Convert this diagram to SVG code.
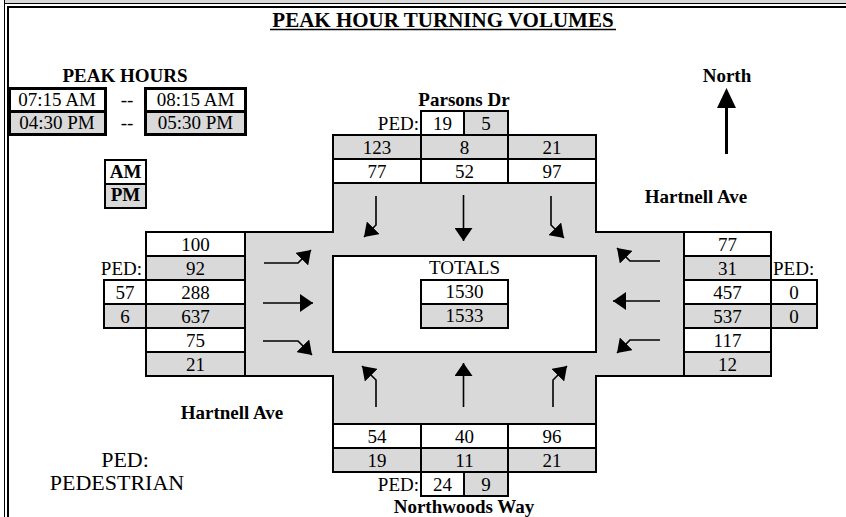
<svg xmlns="http://www.w3.org/2000/svg" width="846" height="517" viewBox="0 0 846 517">
<style>
.t{font-family:"Liberation Serif","Times New Roman",serif;font-size:19px;fill:#000;text-anchor:middle}
.b{font-weight:bold}
.s{text-anchor:start}
.e{text-anchor:end}
.cw{fill:#fff;stroke:#000;stroke-width:2}
.cg{fill:#d9d9d9;stroke:#000;stroke-width:2}
.tw{fill:#fff;stroke:#000;stroke-width:3}
.tg{fill:#d9d9d9;stroke:#000;stroke-width:3}
.ar{fill:none;stroke:#000;stroke-width:1.6;marker-end:url(#ah)}
</style>
<defs>
<marker id="ah" markerUnits="userSpaceOnUse" markerWidth="13" markerHeight="18" viewBox="0 0 13 18" refX="13" refY="9" orient="auto"><path d="M0,0 L13,9 L0,18 z" fill="#000"/></marker>
</defs>
<rect width="846" height="517" fill="#fff"/>
<g id="frame">
<rect x="4" y="0" width="842" height="3" fill="#d9d9d9"/>
<line x1="4" y1="3.5" x2="846" y2="3.5" stroke="#000" stroke-width="1"/>
<line x1="4.5" y1="0" x2="4.5" y2="517" stroke="#000" stroke-width="1"/>
<path d="M8,517 V7 H846" fill="none" stroke="#000" stroke-width="2"/>
</g>
<g id="title">
<text class="t b" x="443" y="27" style="font-size:21px">PEAK HOUR TURNING VOLUMES</text>
<line x1="270" y1="29.5" x2="616" y2="29.5" stroke="#000" stroke-width="1.5"/>
</g>
<g id="peak-hours">
<text class="t b" x="125" y="82">PEAK HOURS</text>
<rect class="tw" x="9.5" y="88.5" width="96" height="23"/>
<rect class="tg" x="9.5" y="111.5" width="96" height="23"/>
<text class="t" x="57" y="106">07:15 AM</text>
<text class="t" x="57" y="129">04:30 PM</text>
<text class="t" x="127" y="106">--</text>
<text class="t" x="127" y="129">--</text>
<rect class="tw" x="145.5" y="88.5" width="100" height="23"/>
<rect class="tg" x="145.5" y="111.5" width="100" height="23"/>
<text class="t" x="195.5" y="106">08:15 AM</text>
<text class="t" x="195.5" y="129">05:30 PM</text>
</g>
<g id="legend-ampm">
<rect class="cw" x="105" y="160" width="41" height="24"/>
<rect class="cg" x="105" y="184" width="41" height="24"/>
<text class="t b" x="125.5" y="178">AM</text>
<text class="t b" x="125.5" y="201">PM</text>
</g>
<g id="compass">
<text class="t b" x="727" y="82">North</text>
<line x1="726.5" y1="104" x2="726.5" y2="154" stroke="#000" stroke-width="3"/>
<polygon points="726.5,88 717,108 736,108" fill="#000"/>
</g>
<g id="intersection">
<path d="M333,183 H596 V232 H684 V376 H596 V424 H333 V376 H245 V232 H333 Z" fill="#d9d9d9" stroke="#000" stroke-width="2"/>
</g>
<g id="totals">
<rect class="cw" x="333" y="256" width="263" height="96"/>
<text class="t" x="464.5" y="274">TOTALS</text>
<rect class="cw" x="421" y="280" width="87" height="24"/>
<rect class="cg" x="421" y="304" width="87" height="24"/>
<text class="t" x="464.5" y="298">1530</text>
<text class="t" x="464.5" y="322">1533</text>
</g>
<g id="north-approach">
<text class="t b" x="464" y="106">Parsons Dr</text>
<text class="t e" x="419" y="129.5">PED:</text>
<rect class="cw" x="421" y="111" width="43" height="24"/>
<rect class="cg" x="464" y="111" width="44" height="24"/>
<text class="t" x="442.5" y="129.5">19</text>
<text class="t" x="486" y="129.5">5</text>
<rect class="cg" x="333" y="135" width="88" height="24"/>
<rect class="cg" x="421" y="135" width="87" height="24"/>
<rect class="cg" x="508" y="135" width="88" height="24"/>
<rect class="cw" x="333" y="159" width="88" height="24"/>
<rect class="cw" x="421" y="159" width="87" height="24"/>
<rect class="cw" x="508" y="159" width="88" height="24"/>
<text class="t" x="377" y="153.5">123</text>
<text class="t" x="464.5" y="153.5">8</text>
<text class="t" x="552" y="153.5">21</text>
<text class="t" x="377" y="177.5">77</text>
<text class="t" x="464.5" y="177.5">52</text>
<text class="t" x="552" y="177.5">97</text>
</g>
<g id="west-approach">
<rect class="cw" x="146" y="232" width="99" height="24"/>
<rect class="cg" x="146" y="256" width="99" height="24"/>
<rect class="cw" x="146" y="280" width="99" height="24"/>
<rect class="cg" x="146" y="304" width="99" height="24"/>
<rect class="cw" x="146" y="328" width="99" height="24"/>
<rect class="cg" x="146" y="352" width="99" height="24"/>
<text class="t" x="195.5" y="250.5">100</text>
<text class="t" x="195.5" y="274.5">92</text>
<text class="t" x="195.5" y="298.5">288</text>
<text class="t" x="195.5" y="322.5">637</text>
<text class="t" x="195.5" y="346.5">75</text>
<text class="t" x="195.5" y="370.5">21</text>
<text class="t e" x="142" y="274.5">PED:</text>
<rect class="cw" x="104" y="280" width="42" height="24"/>
<rect class="cg" x="104" y="304" width="42" height="24"/>
<text class="t" x="125" y="298.5">57</text>
<text class="t" x="125" y="322.5">6</text>
<text class="t b" x="232" y="419">Hartnell Ave</text>
</g>
<g id="east-approach">
<text class="t b" x="696" y="203">Hartnell Ave</text>
<rect class="cw" x="684" y="232" width="87" height="24"/>
<rect class="cg" x="684" y="256" width="87" height="24"/>
<rect class="cw" x="684" y="280" width="87" height="24"/>
<rect class="cg" x="684" y="304" width="87" height="24"/>
<rect class="cw" x="684" y="328" width="87" height="24"/>
<rect class="cg" x="684" y="352" width="87" height="24"/>
<text class="t" x="727.5" y="250.5">77</text>
<text class="t" x="727.5" y="274.5">31</text>
<text class="t" x="727.5" y="298.5">457</text>
<text class="t" x="727.5" y="322.5">537</text>
<text class="t" x="727.5" y="346.5">117</text>
<text class="t" x="727.5" y="370.5">12</text>
<text class="t s" x="773" y="274.5">PED:</text>
<rect class="cw" x="771" y="280" width="46" height="24"/>
<rect class="cg" x="771" y="304" width="46" height="24"/>
<text class="t" x="794" y="298.5">0</text>
<text class="t" x="794" y="322.5">0</text>
</g>
<g id="south-approach">
<rect class="cw" x="333" y="424" width="88" height="24"/>
<rect class="cw" x="421" y="424" width="87" height="24"/>
<rect class="cw" x="508" y="424" width="88" height="24"/>
<rect class="cg" x="333" y="448" width="88" height="24"/>
<rect class="cg" x="421" y="448" width="87" height="24"/>
<rect class="cg" x="508" y="448" width="88" height="24"/>
<text class="t" x="377" y="442.5">54</text>
<text class="t" x="464.5" y="442.5">40</text>
<text class="t" x="552" y="442.5">96</text>
<text class="t" x="377" y="466.5">19</text>
<text class="t" x="464.5" y="466.5">11</text>
<text class="t" x="552" y="466.5">21</text>
<text class="t e" x="419" y="490.5">PED:</text>
<rect class="cw" x="421" y="472" width="43" height="24"/>
<rect class="cg" x="464" y="472" width="44" height="24"/>
<text class="t" x="442.5" y="490.5">24</text>
<text class="t" x="486" y="490.5">9</text>
<text class="t b" x="464" y="513">Northwoods Way</text>
</g>
<g id="legend-ped">
<text class="t" x="125" y="467" style="font-size:22px">PED:</text>
<text class="t" x="117" y="490" style="font-size:22px">PEDESTRIAN</text>
</g>
<g id="connectors">
<path class="ar" d="M376,196 V225 L364,237"/>
<path class="ar" d="M463.5,195 V241"/>
<path class="ar" d="M551,196 V225 L564,238"/>
<path class="ar" d="M376,407 V380 L362,366"/>
<path class="ar" d="M463.5,407 V363"/>
<path class="ar" d="M553,407 V380 L567,366"/>
<path class="ar" d="M264,263 H298 L311,250"/>
<path class="ar" d="M263,303 H313"/>
<path class="ar" d="M263,341 H298 L312,355"/>
<path class="ar" d="M660,261 H630 L617,248"/>
<path class="ar" d="M660,301 H613"/>
<path class="ar" d="M660,340 H630 L617,353"/>
</g>
</svg>
